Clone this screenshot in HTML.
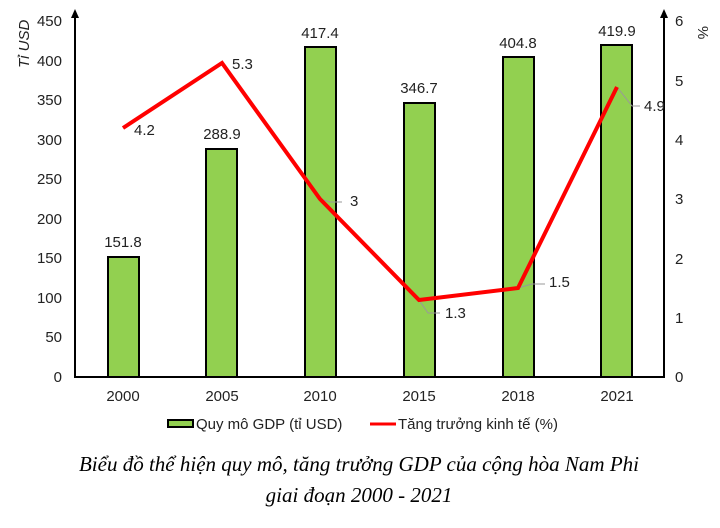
<!DOCTYPE html>
<html><head><meta charset="utf-8"><style>
body{margin:0;background:#fff;}
svg text{font-family:"Liberation Sans",sans-serif;font-size:15px;fill:#222;}
</style></head><body>
<svg width="720" height="523" viewBox="0 0 720 523" xmlns="http://www.w3.org/2000/svg">
<g stroke="#000" stroke-width="2">
<line x1="75" y1="14" x2="75" y2="378"/>
<line x1="664" y1="14" x2="664" y2="378"/>
<line x1="74" y1="377" x2="665" y2="377"/>
</g>
<polygon points="75,9 71,18 79,18" fill="#000"/>
<polygon points="664,9 660,18 668,18" fill="#000"/>
<g text-anchor="end">
<text x="62" y="382">0</text><text x="62" y="342">50</text><text x="62" y="303">100</text>
<text x="62" y="263">150</text><text x="62" y="224">200</text><text x="62" y="184">250</text>
<text x="62" y="145">300</text><text x="62" y="105">350</text><text x="62" y="66">400</text>
<text x="62" y="26">450</text>
</g>
<text transform="translate(29,68) rotate(-90)" font-style="italic">Tỉ USD</text>
<g text-anchor="start">
<text x="675" y="382">0</text><text x="675" y="323">1</text><text x="675" y="264">2</text>
<text x="675" y="204">3</text><text x="675" y="145">4</text><text x="675" y="86">5</text>
<text x="675" y="26">6</text>
</g>
<text transform="translate(698,26) rotate(90)">%</text>
<g fill="#92d050" stroke="#000" stroke-width="2">
<rect x="108" y="257" width="31" height="120"/>
<rect x="206" y="149" width="31" height="228"/>
<rect x="305" y="47" width="31" height="330"/>
<rect x="404" y="103" width="31" height="274"/>
<rect x="503" y="57" width="31" height="320"/>
<rect x="601" y="45" width="31" height="332"/>
</g>
<g text-anchor="middle">
<text x="123" y="247">151.8</text><text x="222" y="139">288.9</text>
<text x="320" y="38">417.4</text><text x="419" y="93">346.7</text>
<text x="518" y="48">404.8</text><text x="617" y="36">419.9</text>
<text x="123" y="401">2000</text><text x="222" y="401">2005</text>
<text x="320" y="401">2010</text><text x="419" y="401">2015</text>
<text x="518" y="401">2018</text><text x="617" y="401">2021</text>
</g>
<g stroke="#999" stroke-width="1" fill="none">
<polyline points="320,199 330,202 342,202"/>
<polyline points="419,300 428,313 440,313"/>
<polyline points="518,288 532,284 545,284"/>
<polyline points="617,87 632,106 640,106"/>
</g>
<polyline points="123,128 222,63 320,199 419,300 518,288 617,87" fill="none" stroke="#ff0000" stroke-width="4" stroke-linejoin="miter"/>
<text x="134" y="135">4.2</text>
<text x="232" y="69">5.3</text>
<text x="350" y="206">3</text>
<text x="445" y="318">1.3</text>
<text x="549" y="287">1.5</text>
<text x="644" y="111">4.9</text>
<rect x="168" y="420" width="25" height="7" fill="#92d050" stroke="#000" stroke-width="2"/>
<text x="196" y="429">Quy mô GDP (tỉ USD)</text>
<line x1="370" y1="424" x2="396" y2="424" stroke="#ff0000" stroke-width="3"/>
<text x="398" y="429">Tăng trưởng kinh tế (%)</text>
<g text-anchor="middle">
<text x="359" y="471" style="font-family:'Liberation Serif',serif;font-style:italic;font-size:21px;fill:#000">Biểu đồ thể hiện quy mô, tăng trưởng GDP của cộng hòa Nam Phi</text>
<text x="359" y="502" style="font-family:'Liberation Serif',serif;font-style:italic;font-size:21px;fill:#000">giai đoạn 2000 - 2021</text>
</g>
</svg>
</body></html>
